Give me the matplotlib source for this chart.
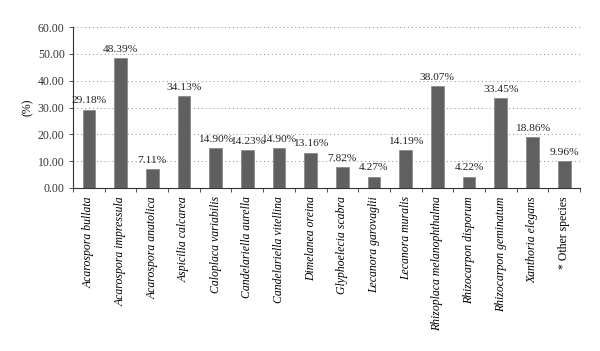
import numpy as np
import matplotlib
matplotlib.use("Agg")
import matplotlib.pyplot as plt
from matplotlib.ticker import FormatStrFormatter

# species names and percentages
species = ["Acarospora bullata", "Acarospora impressula", "Acarospora anatolica",
           "Aspicilia calcarea", "Caloplaca variabilis", "Candelariella aurella",
           "Candelariella vitellina", "Dimelanea oreina", "Glyphoelecia scabra",
           "Lecanora garovaglii", "Lecanora muralis", "Rhizoplaca melanophthalma",
           "Rhizocarpon disporum", "Rhizocarpon geminatum", "Xanthoria elegans",
           "* Other species"]
values = [29.18, 48.39, 7.11, 34.13, 14.90, 14.23, 14.90, 13.16, 7.82,
          4.27, 14.19, 38.07, 4.22, 33.45, 18.86, 9.96]
yticks = [0, 10, 20, 30, 40, 50, 60]

plt.rcParams['font.family'] = ['Liberation Serif', 'DejaVu Serif']

fig = plt.figure(figsize=(6.0, 3.51), dpi=100)
ax = fig.add_axes([0.1217, 0.4644, 0.845, 0.4586])

x = np.arange(len(values))
ax.bar(x, values, width=0.4, color='#606060', edgecolor='#8a8a8a', linewidth=0.6, zorder=3)

for xi, v in zip(x, values):
    ax.text(xi, v + 1.6, "%.2f%%" % v, ha='center', va='bottom', fontsize=8.2, color='#222222')

ax.set_xlim(-0.5, len(values) - 0.5)
ax.set_ylim(0, 60)
ax.set_yticks(yticks)
ax.yaxis.set_major_formatter(FormatStrFormatter('%.2f'))
ax.tick_params(axis='y', labelsize=8.5, length=3, width=0.6, colors='#333333', pad=3)
ax.grid(axis='y', linestyle=(0, (1, 3)), color='#888888', linewidth=0.7, zorder=0)

# category ticks at the boundaries, labels at centers
ax.set_xticks(np.arange(len(values) + 1) - 0.5)
ax.set_xticklabels([])
ax.set_xticks(x, minor=True)
ax.set_xticklabels(species, minor=True, rotation=90, fontsize=8.5, va='top')
for lab in ax.get_xticklabels(minor=True):
    if not lab.get_text().startswith('*'):
        lab.set_fontstyle('italic')
ax.tick_params(axis='x', which='major', length=3, width=0.6, colors='#333333')
ax.tick_params(axis='x', which='minor', length=0, pad=6)

for s in ['top', 'right']:
    ax.spines[s].set_visible(False)
for s in ['left', 'bottom']:
    ax.spines[s].set_color('#333333')
    ax.spines[s].set_linewidth(0.8)

ax.set_ylabel("(%)", fontsize=8.5, labelpad=3)

fig.savefig("out.png", dpi=100)
